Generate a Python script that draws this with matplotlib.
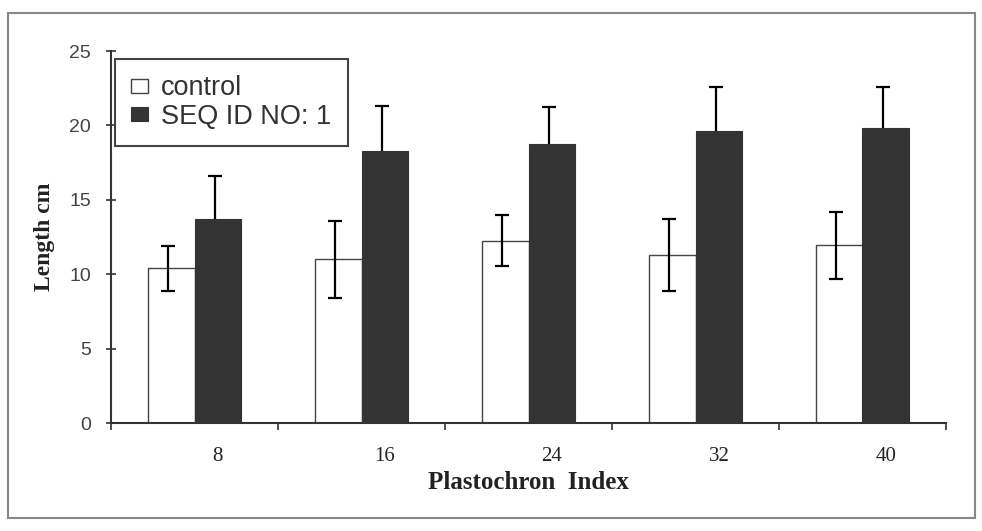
import matplotlib
matplotlib.use("Agg")
import matplotlib.pyplot as plt
from matplotlib.patches import Rectangle
import numpy as np

categories = ["8", "16", "24", "32", "40"]
control = [10.4, 11.0, 12.25, 11.3, 11.95]
control_err = [1.5, 2.6, 1.7, 2.4, 2.25]
seq = [13.7, 18.3, 18.75, 19.65, 19.8]
seq_err = [2.9, 3.0, 2.5, 2.9, 2.75]
yticks = [0, 5, 10, 15, 20, 25]

fig = plt.figure(figsize=(9.82, 5.31), dpi=100)
ax = fig.add_axes([111/982, 1-423/531, (946-111)/982, (423-51)/531])

x = np.arange(len(categories))
w = 0.28
dark = "#333333"

ax.bar(x - w/2, control, w, color="white", edgecolor="#444444", linewidth=1.0, zorder=2)
ax.bar(x + w/2, seq, w, color=dark, edgecolor=dark, linewidth=0.8, zorder=3)
ax.errorbar(x - w/2 - 0.02, control, yerr=control_err, fmt="none", ecolor="black",
            elinewidth=1.6, capsize=5, capthick=1.6, zorder=4)
ax.errorbar(x + w/2 - 0.02, seq, yerr=seq_err, fmt="none", ecolor="black",
            elinewidth=1.6, capsize=5, capthick=1.6, zorder=2.5)

ax.set_xlim(-0.5, len(categories) - 0.5)
ax.set_ylim(0, 25)

for s in ["top", "right"]:
    ax.spines[s].set_visible(False)
for s in ["left", "bottom"]:
    ax.spines[s].set_color("#333333")
    ax.spines[s].set_linewidth(1.5)

ax.set_yticks(yticks)
ax.set_yticklabels([str(v) for v in yticks], fontfamily="Liberation Sans",
                   fontsize=14, color="#444444")
ax.tick_params(axis="y", direction="inout", length=7, width=1.2, color="#333333", pad=11)

# category labels (major, no tick mark) and separators (minor ticks)
ax.set_xticks(x + w/2)
ax.set_xticklabels(categories, fontfamily="Liberation Serif", fontsize=15, color="#222222")
ax.tick_params(axis="x", which="major", length=0, pad=17)
ax.set_xticks(np.arange(len(categories) + 1) - 0.5, minor=True)
ax.tick_params(axis="x", which="minor", direction="out", length=5, width=1.2, color="#333333")

ax.set_xlabel("Plastochron  Index", fontfamily="Liberation Serif", fontweight="bold",
              fontsize=18, color="#222222", labelpad=4)
ax.set_ylabel("Length cm", fontfamily="Liberation Serif", fontweight="bold",
              fontsize=17, color="#222222", labelpad=10)

leg = ax.legend(["control", "SEQ ID NO: 1"], loc="upper left",
                bbox_to_anchor=(0.005, 0.978), borderaxespad=0,
                prop={"family": "Liberation Sans", "size": 19.5},
                fancybox=False, framealpha=1, edgecolor="#444444",
                handlelength=0.6, handleheight=0.45, handletextpad=0.5,
                borderpad=0.6, labelspacing=0.08)
leg.get_frame().set_linewidth(1.5)
for t in leg.get_texts():
    t.set_color("#333333")

# outer frame of the picture
fig.patches.append(Rectangle((8/982, 1-518/531), (975-8)/982, (518-13)/531,
                             transform=fig.transFigure, fill=False,
                             edgecolor="#888888", linewidth=1.5))

fig.savefig("out.png", dpi=100)
